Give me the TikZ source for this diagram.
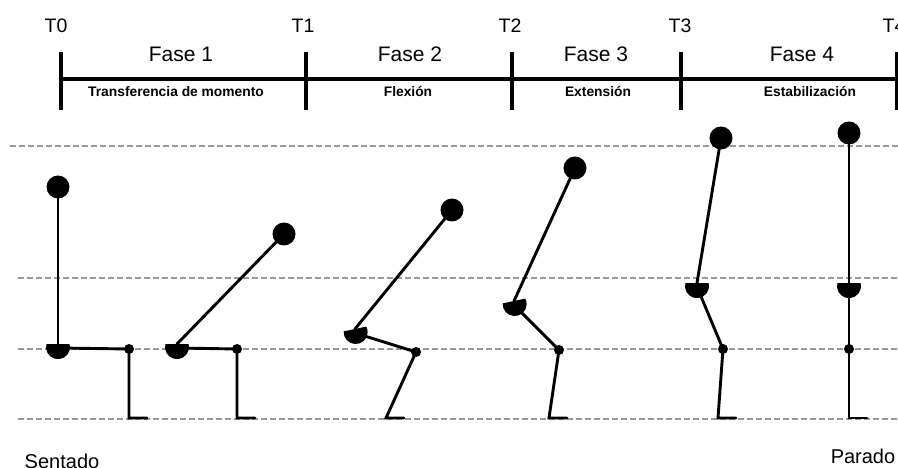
\documentclass[tikz,border=0pt]{standalone}
\usepackage{fontspec}
\setmainfont{Liberation Sans}
\usetikzlibrary{calc}

\tikzset{
  timeline/.style={line width=3.2pt, black},
  tick/.style={line width=3.2pt, black},
  guide/.style={line width=1.8pt, gray!80, dash pattern=on 6pt off 3pt},
  limb/.style={line width=2.9pt, black, line cap=round},
  tlabel/.style={anchor=base, font=\fontsize{19.5}{22}\selectfont, inner sep=0pt},
  phase/.style={anchor=base, font=\fontsize{21}{24}\selectfont, inner sep=0pt},
  phasesub/.style={anchor=base, font=\bfseries\fontsize{13.8}{16}\selectfont, inner sep=0pt},
  endlabel/.style={anchor=base, font=\fontsize{20}{23}\selectfont, inner sep=0pt},
}

% one stick figure: head, hip (flat side of the pelvis), knee, ankle;
% #5 is the tilt of the pelvis segment
\newcommand{\stickfig}[5]{%
  \coordinate (H) at #1;
  \coordinate (P) at #2;
  \coordinate (K) at #3;
  \coordinate (A) at #4;
  \draw[limb] (H) -- (P);
  \draw[limb] ($(P)+(0,4)$) -- (K) -- (A) -- ++(18,0);
  \fill[rotate around={#5:(P)}] ($(P)+(-11.6,0)$) arc[start angle=195, end angle=-15, radius=12] -- cycle;
  \fill (H) circle[radius=11.5];
  \fill (K) circle[radius=5];
}

\begin{document}
\begin{tikzpicture}[x=1pt, y=-1pt]
\useasboundingbox (0,0) rectangle (898,468);

% horizontal reference levels
\draw[guide] (10,146) -- (898,146);
\draw[guide] (18,278) -- (898,278);
\draw[guide] (18,349) -- (898,349);
\draw[guide] (18,419) -- (898,419);

% time axis
\coordinate (t0) at (61,79);
\coordinate (t1) at (306,79);
\coordinate (t2) at (512,79);
\coordinate (t3) at (681,79);
\coordinate (t4) at (897,79);
\draw[timeline] (t0) -- (898,79);
\foreach \t in {t0,t1,t2,t3,t4}
  \draw[tick] ($(\t)+(0,-27)$) -- ($(\t)+(0,31)$);

\node[tlabel] (l0) at (56,33) {T0};
\node[tlabel] (l1) at (303,33) {T1};
\node[tlabel] (l2) at (510,33) {T2};
\node[tlabel] (l3) at (680,33) {T3};
\node[tlabel] (l4) at (894,33) {T4};

\node[phase] (f1) at (181,62) {Fase 1};
\node[phase] (f2) at (410,62) {Fase 2};
\node[phase] (f3) at (596,62) {Fase 3};
\node[phase] (f4) at (802,62) {Fase 4};

\node[phasesub] (s1) at (176,97) {Transferencia de momento};
\node[phasesub] (s2) at (408,97) {Flexión};
\node[phasesub] (s3) at (598,97) {Extensión};
\node[phasesub] (s4) at (810,97) {Estabilización};

% the six postures, from sitting to standing
\stickfig{(58,187)}{(58,344)}{(129,349)}{(129,418)}{0}
\stickfig{(284,234)}{(177,344)}{(237,349)}{(237,418)}{0}
\stickfig{(452,210)}{(355,329)}{(416,352)}{(386,418)}{12}
\stickfig{(575,168)}{(514,301)}{(559,350)}{(549,418)}{12}
\stickfig{(721,138)}{(697,283)}{(723,349)}{(718,418)}{0}
\stickfig{(849,133)}{(849,283)}{(849,349)}{(849,418)}{0}

\node[endlabel] (sit) at (62,468) {Sentado};
\node[endlabel] (stand) at (863,463) {Parado};
\end{tikzpicture}
\end{document}
